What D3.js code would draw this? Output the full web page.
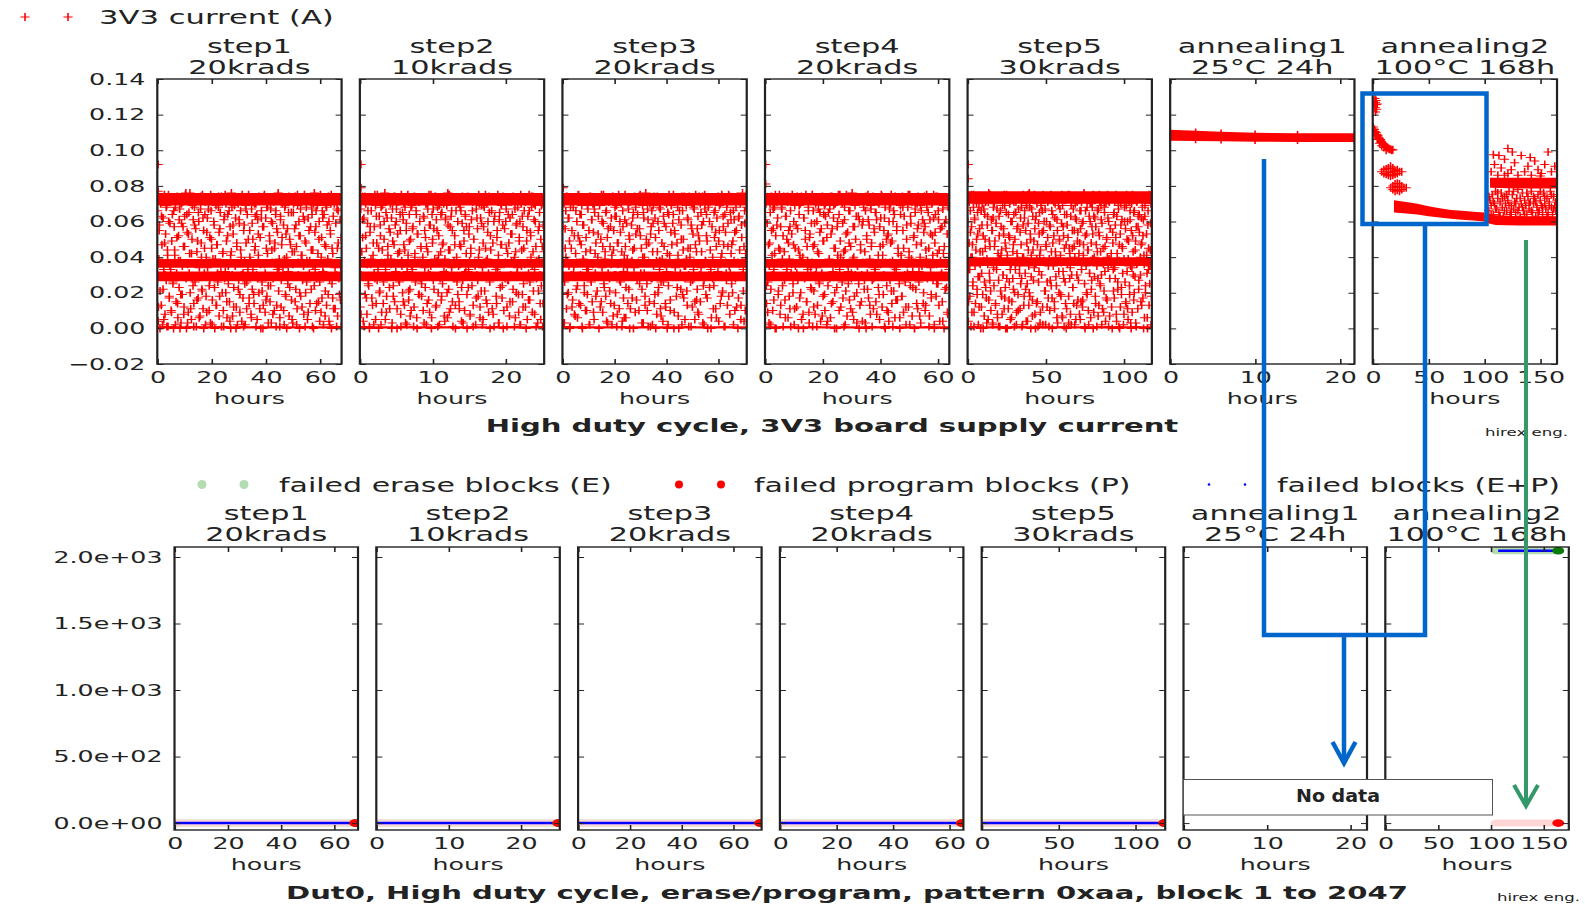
<!DOCTYPE html>
<html>
<head>
<meta charset="utf-8">
<script src="https://cdn.jsdelivr.net/npm/d3@7"></script>
<style>
  body { margin: 0; background: #fff; }
  svg { display: block; }
  text { font-family: "DejaVu Sans", sans-serif; fill: #222; }
</style>
</head>
<body>
<svg id="chart" width="1585" height="904"></svg>
<script>
// ---------------- data ----------------
const stepNames = ["step1", "step2", "step3", "step4", "step5", "annealing1", "annealing2"];
const stepConditions = ["20krads", "10krads", "20krads", "20krads", "30krads", "25°C 24h", "100°C 168h"];
const stepHoursCurrent = [68, 25.3, 71, 64, 118, 21.7, 165];
const stepHoursBlocks = [69, 25.4, 71, 65, 119.5, 22, 174];
const hourTicks = [[0, 20, 40, 60], [0, 10, 20], [0, 20, 40, 60], [0, 20, 40, 60], [0, 50, 100], [0, 10, 20], [0, 50, 100, 150]];
const currentTicks = [-20, 0, 20, 40, 60, 80, 100, 120, 140];   // mA
const blockTicks = [0, 500, 1000, 1500, 2000];

// 3V3 supply current (mA), logged at a steady rate through each irradiation step.
// Two logging channels per step (A and B), each spread evenly over the step's hours.
const step1CurrentA = [
  74,12,55,0,37,63,71,22,5,48,30,68,1,41,75,17,59,33,9,72,
  26,66,44,2,73,51,14,38,61,0,19,70,35,57,8,46,75,28,64,3,
  53,31,76,11,42,69,24,1,58,36,72,16,49,65,6,29,74,40,21,62,
  0,45,71,18,54,34,67,10,27,75,50,2,39,60,23,73,13,47,31,68,
  7,56,37,74,20,43,1,63,32,70,15,52,25,66,4,41,76,30,58,12,
  69,35,0,48,72,22,61,9,44,30,75,17,55,38,2,67,26,71,50,14,
  40,73,6,59,33,19,70,46,1,64,28,53,74,11,36,62,21,0,57,75,
  31,16,68,42,3,72,49,24,60,37,8,71,45,29,66,13,54,76,34,1,
  63,27,51,73,10,39,69,18,0,56,32,74,23,47,65,5,36,70,43,15,
  58,2,75,30,52,20,67,41,12,72,35,61,1,48,26,73,9,55,38,71,
  22,64,44,0,76,33,57,14,69,29,50,4,74,40,17,62,31,71,7,46,
  68,37,19,60,2,53,75,25,42,11,70,34,59,1,45,66,28,73,16,51
];
const step1CurrentB = [
  66,4,39,58,21,70,13,47,2,62,33,75,8,53,27,69,44,1,60,18,
  35,72,10,49,64,25,0,57,41,68,15,31,74,6,52,23,67,38,3,59,
  19,71,46,12,63,29,76,0,54,36,9,65,42,20,73,5,50,28,61,14,
  68,26,56,1,43,72,17,60,34,7,67,48,22,75,11,55,31,64,2,40,
  9,62,37,70,24,51,3,66,45,16,73,29,58,0,39,69,13,47,26,74,
  54,18,65,32,1,71,42,10,61,28,75,20,49,6,64,35,72,15,57,0,
  43,68,7,53,23,74,36,62,12,46,2,70,27,59,19,66,40,4,73,31,
  1,58,25,69,48,11,64,33,75,17,55,38,8,67,22,50,71,14,44,63,
  70,30,5,61,41,20,72,51,0,66,26,57,13,74,36,9,62,45,18,68,
  24,73,52,15,67,3,44,59,28,71,10,48,64,1,56,33,75,21,39,6,
  61,12,47,70,34,58,2,68,19,53,40,73,25,65,7,50,30,72,16,43,
  3,65,29,56,74,22,46,11,69,37,60,0,52,18,71,41,27,63,8,75,
  49,20,68,38,5,62,73,31,14,57,44,67,1,35,70,24,54,10,66,28,
  72,42,15,60,26,75,9,51,66,32,2,64,47,21,69,13,58,39,74,4,
  27,55,70,0,45,17,63,36,73,11,59,30,67,7,48,72,19,61,34,1
];
const step2CurrentA = [
  70,8,43,61,29,1,74,52,17,36,66,24,0,57,39,72,13,48,31,75,
  5,63,27,71,45,20,58,2,37,69,14,50,76,33,9,62,41,73,23,54,
  36,0,67,18,47,74,30,60,11,42,72,26,55,1,38,65,15,70,44,3,
  59,32,75,21,49,7,68,35,56,73,12,40,28,64,0,53,19,71,37,46,
  25,73,10,62,34,51,2,70,43,16,58,30,75,6,48,67,22,39,74,13,
  55,1,41,69,28,64,18,47,72,32,4,61,37,20,76,44,9,57,29,66,
  15,72,38,52,0,71,26,60,35,11,68,46,23,74,3,55,31,63,42,19,
  74,33,57,7,45,30,66,1,50,37,73,17,62,27,40,70,12,36,59,2,
  48,69,21,75,38,14,54,31,65,0,44,72,29,8,60,36,73,18,51,34,
  3,61,30,70,47,24,74,10,56,37,67,1,42,27,71,15,53,38,64,22,
  73,40,6,58,31,68,19,49,2,75,35,63,12,45,29,71,0,55,37,16,
  66,26,52,74,9,43,70,33,60,1,38,72,21,57,30,5,69,46,14,75
];
const step2CurrentB = [
  12,67,30,74,51,4,62,38,19,70,45,8,59,25,72,1,54,36,66,17,
  73,41,2,57,28,69,14,48,75,33,0,63,21,52,68,9,44,71,26,60,
  37,5,65,18,73,46,29,56,11,70,39,62,3,49,24,74,15,58,32,67,
  0,53,71,27,43,64,8,75,35,20,61,47,13,68,30,55,2,72,41,16,
  64,22,50,10,69,33,57,1,74,42,26,66,6,53,37,71,19,60,28,45,
  18,72,40,63,3,55,23,70,46,14,67,31,75,9,58,35,0,64,50,27,
  56,29,74,12,61,38,68,20,52,2,73,43,16,65,25,48,70,7,39,62,
  31,69,6,58,22,75,44,11,63,34,55,1,71,28,47,13,66,40,73,19,
  70,15,47,36,66,4,59,27,72,49,10,64,32,57,0,74,23,53,38,8,
  42,61,24,71,13,50,73,35,2,67,30,56,18,75,44,6,62,21,69,34,
  5,57,68,29,45,16,70,39,60,9,74,26,52,37,66,11,48,72,1,63,
  73,33,14,55,75,41,3,65,23,47,69,17,58,0,36,71,28,60,45,12,
  27,64,48,7,62,30,71,53,15,74,38,1,67,43,20,59,34,73,9,51,
  60,2,70,44,19,57,25,66,36,12,72,49,5,63,31,75,16,54,40,68,
  35,74,21,61,8,69,46,28,73,3,55,39,65,14,50,24,70,1,58,43
];
const step3CurrentA = [
  28,71,3,56,40,74,19,62,35,0,68,45,12,73,31,52,7,66,37,24,
  75,14,49,30,64,1,58,38,20,72,43,10,69,33,55,2,74,26,61,36,
  9,67,42,18,73,29,53,0,70,37,15,60,46,75,23,39,65,4,51,31,
  71,21,57,36,2,74,44,13,63,30,69,8,48,72,27,54,37,1,66,17,
  41,75,6,59,34,70,22,50,11,73,38,62,0,45,29,68,16,56,36,74,
  25,52,72,3,40,65,31,18,76,47,10,61,37,71,1,57,28,43,69,14,
  62,0,38,74,20,55,33,67,7,48,73,26,59,36,12,70,42,2,64,30,
  16,69,47,29,75,9,53,37,72,23,41,0,66,31,58,74,19,50,35,5,
  71,39,13,61,30,73,45,1,56,27,68,37,15,75,43,22,63,8,49,70,
  34,58,74,24,2,67,38,52,17,71,30,60,44,0,73,28,11,65,36,54,
  6,72,32,49,69,14,40,75,21,57,1,64,37,27,70,46,18,74,31,61,
  47,20,66,38,10,73,55,29,0,62,36,71,13,51,76,33,4,59,42,68
];
const step3CurrentB = [
  57,3,70,26,45,66,11,74,38,20,62,49,1,71,30,55,16,68,35,8,
  73,42,22,60,6,52,75,29,64,13,47,69,0,39,58,24,72,10,51,33,
  19,67,36,2,74,44,27,61,15,70,54,5,65,31,48,73,21,40,63,0,
  69,12,50,75,34,9,59,25,71,43,18,66,37,3,56,72,28,46,14,62,
  41,74,7,55,30,68,20,63,1,48,36,75,11,60,26,70,43,4,57,32,
  6,61,46,23,73,39,14,67,52,0,71,29,58,17,44,65,34,74,9,53,
  72,27,64,37,10,56,75,31,45,22,69,3,62,40,13,73,50,25,67,1,
  48,15,70,53,28,66,2,59,35,74,19,51,71,8,43,60,23,68,38,11,
  26,73,39,4,63,46,71,14,57,32,0,65,24,75,41,10,54,69,30,59,
  64,0,55,34,72,18,48,68,7,61,37,73,22,50,2,66,44,17,74,28,
  35,69,21,62,45,1,74,40,26,58,70,12,53,33,67,5,47,72,16,56,
  9,52,74,30,15,65,43,71,3,60,27,75,38,19,64,49,0,68,36,23,
  71,33,6,57,40,73,24,51,66,11,46,62,29,74,4,55,36,70,18,42,
  20,63,47,72,1,54,31,68,13,59,75,35,8,65,42,25,73,49,2,61,
  54,28,68,12,74,37,17,63,44,70,5,58,30,72,21,46,66,10,39,75
];
const step4CurrentA = [
  61,24,73,9,47,35,70,2,55,30,67,16,42,75,0,58,37,21,72,44,
  13,68,39,52,74,27,6,63,33,71,48,18,57,1,36,75,25,60,11,45,
  73,31,56,0,69,41,20,74,37,8,62,29,50,72,15,38,66,3,53,34,
  22,75,46,12,59,30,71,1,43,67,26,54,36,73,7,49,64,19,70,37,
  51,4,65,38,28,74,14,56,32,69,0,45,72,23,60,37,10,75,40,29,
  70,17,43,61,2,53,36,73,25,48,66,11,31,76,39,5,57,30,71,20,
  35,63,0,72,44,15,58,37,68,27,3,74,50,22,61,36,13,69,46,1,
  74,28,54,33,65,8,71,41,19,57,36,75,12,47,30,62,0,73,24,52,
  9,60,37,70,21,49,1,66,34,74,16,55,29,42,72,6,64,38,18,68,
  45,73,26,12,58,31,75,40,2,63,37,71,23,51,0,67,30,14,56,74,
  32,7,69,48,37,72,20,59,10,44,75,28,65,1,36,53,17,70,41,62,
  0,54,74,25,42,66,13,71,38,30,57,4,73,46,22,61,36,9,68,33
];
const step4CurrentB = [
  37,70,14,59,26,73,3,48,65,22,74,41,10,56,33,68,0,52,29,71,
  62,19,45,75,8,57,36,67,24,1,72,43,16,63,30,50,74,6,55,39,
  11,66,31,53,71,20,47,2,69,35,58,12,74,27,44,64,17,70,38,5,
  73,40,0,62,28,55,75,15,46,33,68,9,51,72,23,59,37,1,66,21,
  47,8,70,34,60,13,73,42,25,65,4,56,31,74,18,49,69,10,63,29,
  2,58,24,71,39,67,6,53,74,30,15,62,45,20,70,36,0,57,41,75,
  64,33,49,12,73,26,59,38,1,68,44,21,75,7,54,32,66,16,72,46,
  28,74,9,57,40,18,69,50,63,3,35,71,25,61,13,47,73,30,4,60,
  70,22,43,66,0,52,31,75,17,58,39,8,67,48,27,72,11,56,34,65,
  15,61,73,36,23,70,5,46,62,29,74,41,19,55,1,68,37,50,10,73,
  53,4,67,27,48,75,14,38,60,21,64,6,72,33,57,16,45,71,25,0,
  69,41,18,74,55,9,63,30,72,2,50,36,68,12,43,75,24,59,39,7,
  32,72,52,0,65,22,47,70,11,58,26,73,40,3,66,35,61,14,54,74,
  57,13,39,68,29,73,45,7,61,34,19,70,52,27,75,2,48,64,18,36,
  74,25,61,44,4,56,71,31,15,67,42,0,59,37,73,23,53,8,69,40
];
const step5CurrentA = [
  72,15,48,33,66,1,57,40,24,75,9,61,37,44,70,19,53,2,68,29,
  36,74,12,58,43,0,67,26,50,71,17,39,63,5,76,31,46,21,73,55,
  3,62,34,70,49,14,59,37,8,74,27,52,1,66,41,18,72,30,56,11,
  69,23,45,75,0,38,64,16,51,33,73,6,60,28,47,71,20,36,65,2,
  42,57,10,74,31,54,25,68,1,40,75,13,62,37,22,70,48,4,59,35,
  76,18,50,29,67,7,44,72,34,56,0,63,39,15,73,26,53,41,9,69,
  30,66,2,55,38,74,21,47,60,12,71,35,1,58,27,75,43,17,64,36,
  52,11,70,40,24,61,3,73,32,49,67,19,37,75,6,57,28,45,72,14,
  0,64,36,51,18,75,42,8,69,30,55,23,74,46,2,62,38,13,71,54,
  27,73,48,5,66,33,59,16,41,76,1,52,37,20,68,44,10,74,31,60,
  70,22,57,39,0,63,29,72,14,47,35,66,7,54,75,25,43,61,2,37,
  45,9,68,32,74,17,51,40,62,1,71,28,56,36,12,73,48,21,65,34,
  58,75,4,42,26,67,38,0,53,70,19,46,31,74,8,60,37,15,69,50,
  11,39,72,24,61,3,55,34,75,43,16,66,29,49,1,71,37,57,22,64,
  74,30,47,13,68,52,0,36,63,20,73,41,6,58,33,75,25,44,70,18
];
const step5CurrentB = [
  60,4,33,71,18,54,40,75,9,47,26,68,1,62,35,14,73,50,22,65,
  29,74,12,56,43,0,66,31,70,19,52,38,7,64,45,23,72,3,58,36,
  71,16,49,27,75,10,61,37,55,2,68,24,46,74,13,59,33,67,6,42,
  1,63,39,72,21,57,44,8,69,30,53,75,17,48,0,65,28,41,73,11,
  52,26,70,5,60,36,15,74,43,22,64,1,50,33,71,9,56,39,19,67,
  74,35,11,62,47,28,72,2,58,40,18,66,31,55,4,69,25,75,44,13,
  20,68,53,0,41,73,16,63,27,49,75,8,61,36,14,70,47,1,59,32,
  65,3,44,70,30,54,12,75,38,60,21,67,2,46,73,26,51,17,72,39,
  10,57,74,24,66,0,48,35,71,15,62,43,29,74,6,55,38,69,20,50,
  73,41,18,59,7,69,32,52,1,64,26,72,47,11,58,37,75,3,45,28,
  34,63,2,74,45,23,67,14,55,40,70,5,61,30,49,16,72,42,8,66,
  56,15,71,37,12,60,47,74,25,0,66,35,53,19,73,44,2,63,31,70,
  6,48,27,68,53,75,9,40,62,18,57,74,1,43,28,67,13,52,71,24,
  69,30,59,11,72,36,21,65,46,4,70,50,16,75,34,60,39,7,56,73,
  42,74,0,54,33,64,17,71,28,51,8,63,38,22,69,1,47,74,12,58,
  23,61,45,73,2,39,68,26,56,14,75,32,60,5,49,71,19,66,35,0,
  70,9,52,30,65,20,74,44,3,57,36,72,11,63,27,54,74,40,15,62,
  48,71,17,61,41,6,69,24,73,53,31,0,66,45,13,72,35,59,2,75
];
const stepCurrent = [
  [step1CurrentA, step1CurrentB], [step2CurrentA, step2CurrentB], [step3CurrentA, step3CurrentB],
  [step4CurrentA, step4CurrentB], [step5CurrentA, step5CurrentB]
];

// start-up readings in the first minutes of each step: [hour, mA]
const firstHourCurrent = [
  [[0.3, 92], [0.3, 77]],
  [[0.15, 92], [0.15, 79]],
  [[0.3, 79]],
  [[0.2, 92], [0.2, 81]],
  [[0.4, 92], [0.4, 84]]
];

// steady readings repeated so often they merge: [step, fromHour, toHour, lowMA, highMA]
const steadyBands = [
  [0, 0, 68, 69, 76], [0, 0, 68, 34, 39], [0, 0, 68, 26.5, 32], [0, 0, 68, 0, 1.2],
  [1, 0, 25.3, 69, 76], [1, 0, 25.3, 34, 39], [1, 0, 25.3, 26.5, 32], [1, 0, 25.3, 0, 1.2],
  [2, 0, 71, 69, 76], [2, 0, 71, 34, 39], [2, 0, 71, 26.5, 32], [2, 0, 71, 0, 1.2],
  [3, 0, 64, 69, 76], [3, 0, 64, 34, 39], [3, 0, 64, 26.5, 32], [3, 0, 64, 0, 1.2],
  [4, 0, 118, 70, 77], [4, 0, 118, 35, 40], [4, 0, 118, 0, 1.2]
];

// annealing 1: [hour, lowMA, highMA]
const anneal1Current = [[0, 105.3, 111.5], [3, 105.2, 111], [6, 105, 110.4], [10, 104.8, 109.8], [15, 104.7, 109.6], [21.7, 104.7, 109.6]];

// annealing 2 dense stretches: [hour, lowMA, highMA]
const anneal2Bands = [
  [[19, 65, 72], [30, 64.5, 71], [40, 64, 70], [50, 63, 68.5], [60, 62.2, 67.5], [70, 61.5, 66.5], [80, 61, 66], [90, 60.5, 65.5], [100, 60, 65]],
  [[100, 59.5, 64.5], [110, 58, 63.5], [130, 57.8, 63], [165, 57.8, 63]],
  [[105, 79, 84.5], [130, 78.5, 84.5], [165, 78.5, 84.5]]
];
// annealing 2 individual readings: [hour, mA]
const anneal2Current = [
  [2,129],[2.5,127],[3,125.5],[2,124],[3.5,123],[2.5,121.5],[4,126],[3,128],[1.5,126],
  [0.5,113],[1,112],[1.5,111.5],[2,110.5],[3,110],[3.5,109],[4,108.5],[5,108],[5.5,107],[6,106.5],
  [7,106],[7.5,105],[8,104.5],[9,104],[10,103.5],[10.5,102.5],[11,103],[12,102],[13,101.5],[14,101],
  [15,100.5],[16,100.5],[17,100],[18,100.3],[2,108],[4,106],[6,104],[8,102.5],[10,101.5],[12,100],
  [8,88],[10,87],[10,89],[12,86.5],[12,88],[12,89.5],[14,86],[14,88],[14,90],[16,85.5],[16,87.5],
  [16,89.5],[16,91],[18,86],[18,88],[18,90],[20,86.5],[20,88.5],[22,87],[22,89],[24,88],[26,88],
  [16,79],[18,78],[18,80],[20,77],[20,79],[20,81],[22,77.5],[22,79.5],[22,81.5],[24,77],[24,79],
  [24,81],[26,78],[26,80],[28,79],[30,79],
  [104,66],[105,72],[106,69],[107,75],[108,64],[109,70],[110,77],[111,67],[112,73],[113,65],
  [114,71],[115,76],[116,68],[117,63],[118,74],[119,70],[120,66],[121,72],[122,77],[123,64],
  [124,69],[125,75],[126,67],[127,71],[128,65],[129,73],[130,78],[131,68],[132,63],[133,70],
  [134,76],[135,66],[136,72],[137,69],[138,64],[139,74],[140,67],[141,71],[142,77],[143,65],
  [144,70],[145,73],[146,63],[147,68],[148,75],[149,66],[150,72],[151,69],[152,64],[153,76],
  [154,70],[155,67],[156,73],[157,65],[158,71],[159,77],[160,68],[161,64],[162,74],[163,69],
  [164,66],[165,72],
  [104,74],[106,64],[108,71],[110,67],[112,76],[114,63],[116,73],[118,66],[120,75],[122,69],
  [124,65],[126,77],[128,70],[130,66],[132,73],[134,68],[136,64],[138,76],[140,70],[142,66],
  [144,74],[146,71],[148,65],[150,77],[152,68],[154,74],[156,63],[158,69],[160,75],[162,67],[164,71],
  [106,88],[109,92],[112,86],[115,90],[118,95],[121,87],[124,89],[127,93],[130,86],[133,97],
  [136,88],[139,91],[142,86],[145,94],[148,89],[151,87],[154,92],[157,99],[160,88],[163,91],
  [125,99],[113,97],[141,96],[150,85.5],[118,86],[121,101],[108,97.5]
];

// failed block counts: [hour, blocks]
const failedEraseBlocks   = [[[0,0],[68,0]], [[0,0],[25.2,0]], [[0,0],[70.5,0]], [[0,0],[64.5,0]], [[0,0],[119,0]], [], [[105,2047],[164,2047]]];
const failedProgramBlocks = [[[0,0],[68,0]], [[0,0],[25.2,0]], [[0,0],[70.5,0]], [[0,0],[64.5,0]], [[0,0],[119,0]], [], [[105,0],[164,0]]];
const failedBlocks        = [[[0,0],[68,0]], [[0,0],[25.2,0]], [[0,0],[70.5,0]], [[0,0],[64.5,0]], [[0,0],[119,0]], [], [[107,2047],[163,2047]]];

// ---------------- layout ----------------
const S = 1.58;                       // horizontal stretch of the figure
const sx = px => px / S;
const svg = d3.select("#chart");
const fig = svg.append("g").attr("transform", `scale(${S},1)`);

const rows = {
  current: { top: 79, bottom: 364, left0: 157.3, step: 202.57, width: 184.3 },
  blocks:  { top: 547, bottom: 830, left0: 174.5, step: 201.8, width: 183.5 }
};
const yCurrent = d3.scaleLinear().domain([-20, 140]).range([rows.current.bottom, rows.current.top]);
const yBlocks = d3.scaleLinear().domain([-52, 2075]).range([rows.blocks.bottom, rows.blocks.top]);

const fmtCurrent = d => (d / 1000).toFixed(2).replace("-", "\u2212");
const fmtBlocks = d => {
  const [m, e] = d.toExponential(1).split("e");
  return m + "e" + e[0] + e.slice(1).padStart(2, "0");
};

const crossA = 4.6 / S, crossB = 4;
function crossPath(points, x, y) {
  return points.map(p => {
    const cx = x(p[0]), cy = y(p[1]);
    return `M${cx - crossA},${cy}h${2 * crossA}M${cx},${cy - crossB}v${2 * crossB}`;
  }).join("");
}

function panel(rowKey, i, span, yScale, ticksY, fmtY) {
  const row = rows[rowKey];
  const L = row.left0 + i * row.step, R = L + row.width;
  const x = d3.scaleLinear().domain([0, span]).range([sx(L), sx(R)]);
  const g = fig.append("g");
  const id = `clip-${rowKey}-${i}`;
  g.append("clipPath").attr("id", id).append("rect")
    .attr("x", sx(L)).attr("y", row.top).attr("width", sx(R) - sx(L)).attr("height", row.bottom - row.top);
  const data = g.append("g").attr("clip-path", `url(#${id})`);
  const axes = g.append("g");

  const style = sel => {
    sel.attr("font-family", "DejaVu Sans").attr("font-size", 16).attr("color", "#222");
    sel.select(".domain").remove();
    sel.selectAll(".tick line").attr("stroke-width", 1);
  };
  axes.append("g").attr("transform", `translate(${sx(L)},0)`)
    .call(d3.axisLeft(yScale).tickValues(ticksY).tickSize(-6 / S).tickPadding(12 / S)
      .tickFormat(i === 0 ? fmtY : () => "")).call(style);
  axes.append("g").attr("transform", `translate(${sx(R)},0)`)
    .call(d3.axisRight(yScale).tickValues(ticksY).tickSize(-6 / S).tickFormat(() => "")).call(style);
  axes.append("g").attr("transform", `translate(0,${row.bottom})`)
    .call(d3.axisBottom(x).tickValues(hourTicks[i]).tickSize(-5).tickPadding(7.5).tickFormat(d3.format("d"))).call(style);
  axes.append("g").attr("transform", `translate(0,${row.top})`)
    .call(d3.axisTop(x).tickValues(hourTicks[i]).tickSize(-5).tickFormat(() => "")).call(style);

  axes.append("rect").attr("x", sx(L)).attr("y", row.top)
    .attr("width", sx(R) - sx(L)).attr("height", row.bottom - row.top)
    .attr("fill", "none").attr("stroke", "#222").attr("stroke-width", 1.4);

  const cxm = sx((L + R) / 2);
  const shift = rowKey === "current" ? 1 : 0;
  axes.append("text").attr("x", cxm).attr("y", row.top - 26.5 + shift).attr("text-anchor", "middle")
    .attr("font-size", 19.2).text(stepNames[i]);
  axes.append("text").attr("x", cxm).attr("y", row.top - 6 + shift).attr("text-anchor", "middle")
    .attr("font-size", 19.2).text(stepConditions[i]);
  axes.append("text").attr("x", cxm).attr("y", row.bottom + 40.5).attr("text-anchor", "middle")
    .attr("font-size", 16).text("hours");
  return { x, data };
}

// ---------------- 3V3 current row ----------------
const red = "#ff0000";
const band = (x, y) => d3.area().x(d => x(d[0])).y0(d => y(d[1])).y1(d => y(d[2]));

stepNames.forEach((name, i) => {
  const { x, data } = panel("current", i, stepHoursCurrent[i], yCurrent, currentTicks, fmtCurrent);
  const area = band(x, yCurrent);
  if (i < 5) {
    steadyBands.filter(b => b[0] === i).forEach(b => {
      data.append("path").attr("d", area([[b[1], b[3], b[4]], [b[2], b[3], b[4]]])).attr("fill", red);
    });
    let pts = firstHourCurrent[i].slice();
    stepCurrent[i].forEach(vals => {
      pts = pts.concat(vals.map((v, k) => [(k + 0.5) / vals.length * stepHoursCurrent[i], v]));
    });
    data.append("path").attr("d", crossPath(pts, x, yCurrent))
      .attr("fill", "none").attr("stroke", red).attr("stroke-width", 1);
  } else if (i === 5) {
    data.append("path").attr("d", area(anneal1Current)).attr("fill", red);
    data.append("path").attr("d", crossPath(anneal1Current.map(d => [d[0], d[2] - 1]).concat(anneal1Current.map(d => [d[0], d[1] + 1])), x, yCurrent))
      .attr("fill", "none").attr("stroke", red).attr("stroke-width", 1);
  } else {
    anneal2Bands.forEach(b => data.append("path").attr("d", area(b)).attr("fill", red));
    data.append("path").attr("d", crossPath(anneal2Current, x, yCurrent))
      .attr("fill", "none").attr("stroke", red).attr("stroke-width", 1);
  }
});

// ---------------- failed blocks row ----------------
const blockLine = (x) => d3.line().x(d => x(d[0])).y(d => yBlocks(d[1]));
stepNames.forEach((name, i) => {
  const { x, data } = panel("blocks", i, stepHoursBlocks[i], yBlocks, blockTicks, fmtBlocks);
  const line = blockLine(x);
  const E = failedEraseBlocks[i], P = failedProgramBlocks[i], T = failedBlocks[i];
  if (E.length) data.append("path").attr("d", line(E)).attr("fill", "none")
    .attr("stroke", "#b3dcb3").attr("stroke-width", 7).attr("stroke-linecap", "round");
  if (P.length) data.append("path").attr("d", line(P)).attr("fill", "none")
    .attr("stroke", "#ffd6d6").attr("stroke-width", 7).attr("stroke-linecap", "round");
  if (T.length) data.append("path").attr("d", line(T)).attr("fill", "none")
    .attr("stroke", "#0000ff").attr("stroke-width", 2.5);
  if (E.length) { const e = E[E.length - 1];
    data.append("circle").attr("cx", x(e[0])).attr("cy", yBlocks(e[1])).attr("r", 3.8).attr("fill", "#0a7a0a"); }
  if (P.length) { const p = P[P.length - 1];
    data.append("circle").attr("cx", x(p[0])).attr("cy", yBlocks(p[1])).attr("r", 3.8).attr("fill", red); }
});

// ---------------- legends, titles, credits ----------------
const legendCross = [[25, 17], [68, 17]];
fig.append("path")
  .attr("d", legendCross.map(([px, py]) => `M${sx(px) - crossA},${py}h${2 * crossA}M${sx(px)},${py - crossB}v${2 * crossB}`).join(""))
  .attr("stroke", red).attr("fill", "none").attr("stroke-width", 1);
fig.append("text").attr("x", sx(99)).attr("y", 24.5).attr("font-size", 19.4).text("3V3 current (A)");

const legendItems = [
  { marks: [202, 244], r: 4.5, color: "#b3dcb3", text: "failed erase blocks (E)", tx: 279 },
  { marks: [679, 721], r: 4, color: red, text: "failed program blocks (P)", tx: 754 },
  { marks: [1209, 1245], r: 1.3, color: "#0000ff", text: "failed blocks (E+P)", tx: 1277 }
];
legendItems.forEach(it => {
  it.marks.forEach(px => svg.append("circle").attr("cx", px).attr("cy", 484.5).attr("r", it.r).attr("fill", it.color));
  fig.append("text").attr("x", sx(it.tx)).attr("y", 492).attr("font-size", 19).text(it.text);
});

fig.append("text").attr("x", sx(832)).attr("y", 432).attr("text-anchor", "middle")
  .attr("font-size", 18.4).attr("font-weight", "bold").attr("fill", "#111")
  .text("High duty cycle, 3V3 board supply current");
fig.append("text").attr("x", sx(847)).attr("y", 899).attr("text-anchor", "middle")
  .attr("font-size", 18.4).attr("font-weight", "bold").attr("fill", "#111")
  .text("Dut0, High duty cycle, erase/program, pattern 0xaa, block 1 to 2047");
fig.append("text").attr("x", sx(1485)).attr("y", 436.5).attr("font-size", 10.5).text("hirex eng.");
fig.append("text").attr("x", sx(1497)).attr("y", 901.5).attr("font-size", 10.5).text("hirex eng.");

// ---------------- annotation callouts ----------------
const note = svg.append("g").attr("fill", "none").attr("stroke-linejoin", "miter");
const blue = "#0066cc", green = "#33996a";
note.append("rect").attr("x", 1362.5).attr("y", 93.5).attr("width", 124).attr("height", 130.5)
  .attr("stroke", blue).attr("stroke-width", 4.5);
note.append("path").attr("d", "M1264,159V635H1425V224").attr("stroke", blue).attr("stroke-width", 4.5);
note.append("path").attr("d", "M1344,635V763").attr("stroke", blue).attr("stroke-width", 4.5);
note.append("path").attr("d", "M1332.5,742L1344,763L1355.5,742").attr("stroke", blue).attr("stroke-width", 4.5);
note.append("path").attr("d", "M1526,240V806").attr("stroke", green).attr("stroke-width", 4);
note.append("path").attr("d", "M1514,785L1526,806L1538,785").attr("stroke", green).attr("stroke-width", 4);

const noData = svg.append("g");
noData.append("rect").attr("x", 1183.5).attr("y", 779.5).attr("width", 309).attr("height", 35.5)
  .attr("fill", "#fff").attr("stroke", "#555").attr("stroke-width", 1);
noData.append("text").attr("x", 1296).attr("y", 802).attr("font-family", "Liberation Sans")
  .attr("font-weight", "bold").attr("font-size", 17).attr("fill", "#141428")
  .attr("textLength", 84).attr("lengthAdjust", "spacingAndGlyphs").text("No data");
</script>
</body>
</html>
